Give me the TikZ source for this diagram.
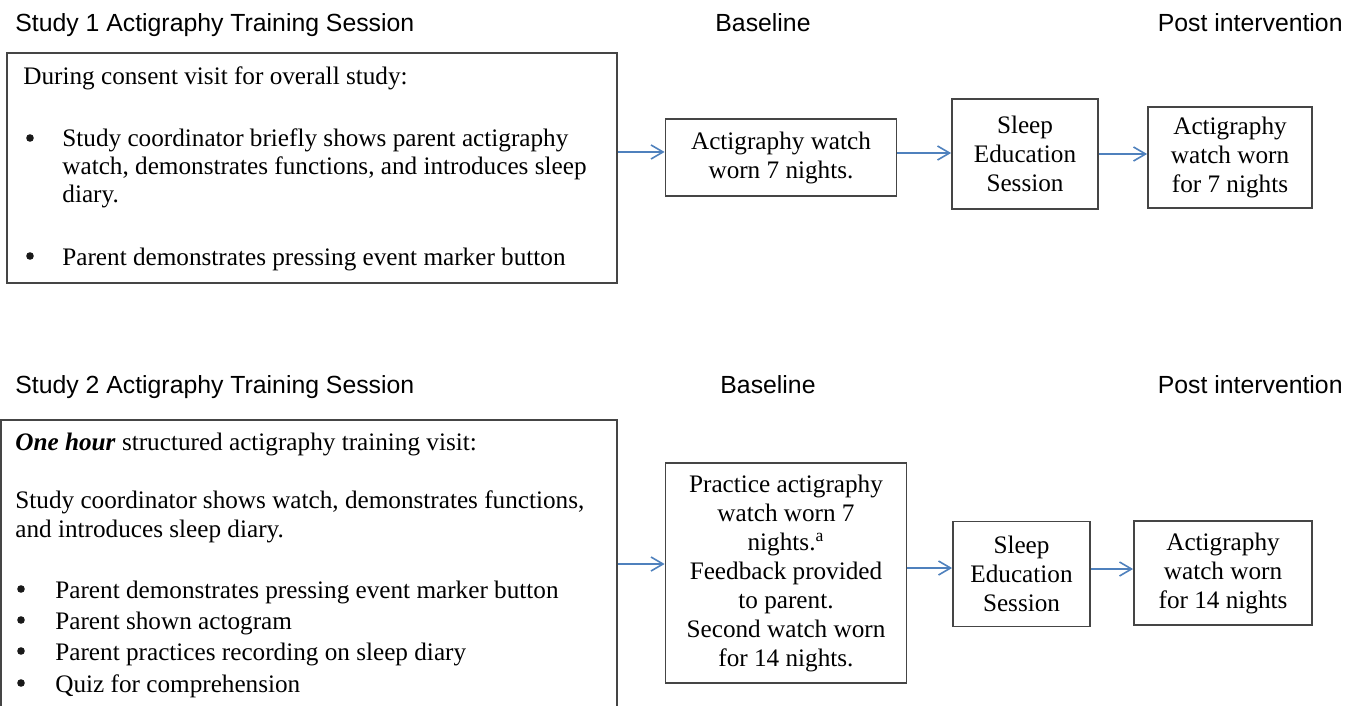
\documentclass[tikz,border=0pt]{standalone}
\usepackage{fontspec}
\setmainfont{Liberation Serif}
\setsansfont{Liberation Sans}
\usetikzlibrary{arrows.meta}
\definecolor{arrowblue}{HTML}{4F81BD}
\definecolor{boxgray}{HTML}{454545}
\begin{document}
\begin{tikzpicture}[x=0.5pt,y=-0.5pt,
  box/.style={draw=boxgray,line width=0.9pt,inner sep=0pt},
  boxtext/.style={align=center,font=\fontsize{12.6}{14.5}\selectfont},
  body/.style={anchor=base west,inner sep=0pt,font=\fontsize{12.6}{14}\selectfont},
  bul/.style={circle,fill=black!90,inner sep=0pt,minimum size=3.8pt},
  head/.style={inner sep=0pt,font=\sffamily\fontsize{12.4}{14}\selectfont},
  flow/.style={draw=arrowblue,line width=0.8pt,-{Straight Barb[length=6pt,width=7pt,line width=0.8pt]}}]
\useasboundingbox (0,0) rectangle (1361,706);

% headers
\node[head,anchor=base west] (h1) at (15,32) {Study 1 Actigraphy Training Session};
\node[head,anchor=base] (h1b) at (763,32) {Baseline};
\node[head,anchor=base east] (h1p) at (1343,32) {Post intervention};
\node[head,anchor=base west] (h2) at (15,393) {Study 2 Actigraphy Training Session};
\node[head,anchor=base] (h2b) at (768,393) {Baseline};
\node[head,anchor=base east] (h2p) at (1343,393) {Post intervention};

% Study 1
\node[box,minimum width=305pt,minimum height=115pt] (b1) at (312,168) {};
\node[body] (t1a) at (23,85) {During consent visit for overall study:};
\node[bul] (u1a) at (30,138) {};
\node[body] (t1b) at (62,147) {Study coordinator briefly shows parent actigraphy};
\node[body] (t1c) at (62,175) {watch, demonstrates functions, and introduces sleep};
\node[body] (t1d) at (62,203) {diary.};
\node[bul] (u1b) at (30,256) {};
\node[body] (t1e) at (62,265) {Parent demonstrates pressing event marker button};

\node[box,boxtext,minimum width=115.5pt,minimum height=38.5pt] (b2) at (781,157.5) {Actigraphy watch\\worn 7 nights.};
\node[box,boxtext,minimum width=73pt,minimum height=55pt] (b3) at (1025,154) {Sleep\\Education\\Session};
\node[box,boxtext,minimum width=82pt,minimum height=50.5pt] (b4) at (1230,157.5) {Actigraphy\\watch worn\\for 7 nights};

\draw[flow] (b1.east |- 0,152) -- (b2.west |- 0,152);
\draw[flow] (b2.east |- 0,153) -- (b3.west |- 0,153);
\draw[flow] (b3.east |- 0,154) -- (b4.west |- 0,154);

% Study 2
\node[box,minimum width=308pt,minimum height=160pt] (b5) at (309,580) {};
\node[body] (t5a) at (15,450) {\textbf{\textit{One hour}} structured actigraphy training visit:};
\node[body] (t5b) at (15,508) {Study coordinator shows watch, demonstrates functions,};
\node[body] (t5c) at (15,537) {and introduces sleep diary.};
\node[bul] (u5a) at (21,589) {};
\node[body] (t5d) at (55,598) {Parent demonstrates pressing event marker button};
\node[bul] (u5b) at (21,620) {};
\node[body] (t5e) at (55,629) {Parent shown actogram};
\node[bul] (u5c) at (21,651) {};
\node[body] (t5f) at (55,660) {Parent practices recording on sleep diary};
\node[bul] (u5d) at (21,683) {};
\node[body] (t5g) at (55,692) {Quiz for comprehension};

\node[box,boxtext,minimum width=120.5pt,minimum height=110pt] (b6) at (786,573) {Practice actigraphy\\watch worn 7\\nights.\textsuperscript{a}\\Feedback provided\\to parent.\\Second watch worn\\for 14 nights.};
\node[box,boxtext,minimum width=68.5pt,minimum height=52.5pt] (b7) at (1021.5,574) {Sleep\\Education\\Session};
\node[box,boxtext,minimum width=89pt,minimum height=52pt] (b8) at (1223,573) {Actigraphy\\watch worn\\for 14 nights};

\draw[flow] (b5.east |- 0,564) -- (b6.west |- 0,564);
\draw[flow] (b6.east |- 0,568) -- (b7.west |- 0,568);
\draw[flow] (b7.east |- 0,569) -- (b8.west |- 0,569);
\end{tikzpicture}
\end{document}
